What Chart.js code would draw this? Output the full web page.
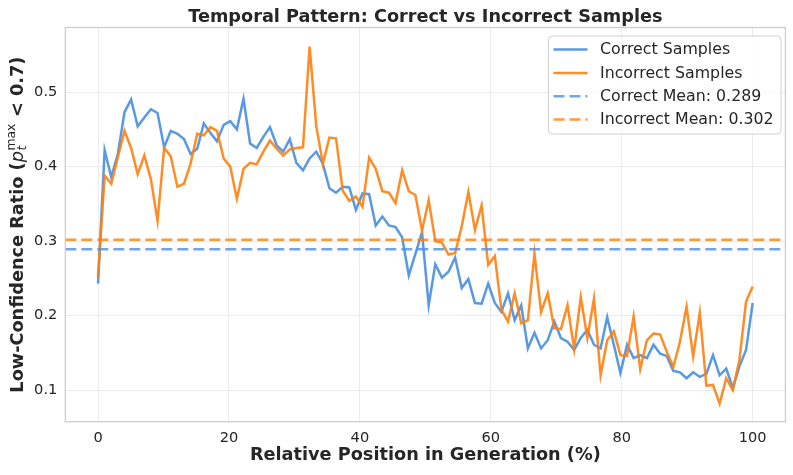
<!DOCTYPE html>
<html><head><meta charset="utf-8">
<script src="https://cdn.jsdelivr.net/npm/chart.js@4.4.1/dist/chart.umd.min.js"></script>
<style>html,body{margin:0;padding:0;background:#fff}</style>
</head><body>
<canvas id="c" width="793" height="475"></canvas>
<script>
// Relative position (%) of each of the 100 bins
const positions = [0.00,1.01,2.02,3.03,4.04,5.05,6.06,7.07,8.08,9.09,10.10,11.11,12.12,13.13,14.14,15.15,16.16,17.17,18.18,19.19,
20.20,21.21,22.22,23.23,24.24,25.25,26.26,27.27,28.28,29.29,30.30,31.31,32.32,33.33,34.34,35.35,36.36,37.37,38.38,39.39,
40.40,41.41,42.42,43.43,44.44,45.45,46.46,47.47,48.48,49.49,50.51,51.52,52.53,53.54,54.55,55.56,56.57,57.58,58.59,59.60,
60.61,61.62,62.63,63.64,64.65,65.66,66.67,67.68,68.69,69.70,70.71,71.72,72.73,73.74,74.75,75.76,76.77,77.78,78.79,79.80,
80.81,81.82,82.83,83.84,84.85,85.86,86.87,87.88,88.89,89.90,90.91,91.92,92.93,93.94,94.95,95.96,96.97,97.98,98.99,100.00];

const correctRatio = [0.243,0.422,0.386,0.417,0.473,0.490,0.454,0.466,0.477,0.472,0.426,0.448,0.444,0.437,0.417,0.424,0.458,0.445,0.434,0.456,
0.461,0.450,0.491,0.431,0.425,0.440,0.453,0.429,0.420,0.437,0.405,0.395,0.411,0.420,0.404,0.371,0.365,0.373,0.372,0.342,
0.364,0.363,0.321,0.333,0.321,0.319,0.305,0.254,0.283,0.312,0.214,0.269,0.251,0.259,0.278,0.237,0.249,0.217,0.216,0.243,
0.217,0.205,0.230,0.194,0.214,0.156,0.177,0.156,0.167,0.192,0.170,0.165,0.154,0.170,0.181,0.161,0.156,0.198,0.161,0.123,
0.161,0.143,0.147,0.143,0.161,0.149,0.146,0.126,0.124,0.116,0.124,0.118,0.122,0.147,0.120,0.129,0.103,0.132,0.154,0.217];

const incorrectRatio = [0.252,0.388,0.377,0.413,0.448,0.425,0.390,0.415,0.383,0.327,0.425,0.414,0.373,0.377,0.404,0.444,0.442,0.453,0.448,0.411,
0.400,0.357,0.397,0.405,0.403,0.420,0.435,0.424,0.415,0.423,0.425,0.426,0.561,0.455,0.404,0.439,0.438,0.368,0.354,0.360,
0.346,0.412,0.397,0.367,0.365,0.351,0.395,0.367,0.362,0.314,0.355,0.300,0.298,0.282,0.284,0.320,0.366,0.315,0.348,0.268,
0.280,0.208,0.192,0.230,0.190,0.194,0.283,0.205,0.230,0.183,0.182,0.214,0.155,0.225,0.170,0.223,0.120,0.167,0.179,0.147,
0.146,0.199,0.128,0.167,0.176,0.175,0.152,0.131,0.165,0.212,0.145,0.204,0.106,0.107,0.082,0.116,0.100,0.141,0.219,0.239];

const correctMean = 0.289;
const incorrectMean = 0.302;
const xLimits = [-5, 105];
const yLimits = [0.0577, 0.5867];
const xTicks = [0, 20, 40, 60, 80, 100];
const yTicks = [0.1, 0.2, 0.3, 0.4, 0.5];
const seriesLabels = ['Correct Samples', 'Incorrect Samples', 'Correct Mean: 0.289', 'Incorrect Mean: 0.302'];

const BLUE = 'rgba(74,144,226,0.92)';
const ORANGE = 'rgba(255,127,14,0.9)';
const BLUE_D = 'rgba(74,144,226,0.8)';
const ORANGE_D = 'rgba(255,127,14,0.8)';
const TXT = '#262626';
const FONT = '"DejaVu Sans", "Liberation Sans", sans-serif';

const titlePlugin = {
  id: 'titlePlugin',
  afterDraw(chart) {
    const c = chart.ctx, a = chart.chartArea;
    c.save();
    c.fillStyle = TXT;
    c.font = 'bold 17.7px ' + FONT;
    c.textAlign = 'center';
    c.textBaseline = 'alphabetic';
    c.fillText('Temporal Pattern: Correct vs Incorrect Samples', (a.left + a.right) / 2, 21.7);
    // y axis title with math
    const big = 17.7, small = 12.4;
    const parts1 = 'Low-Confidence Ratio (';
    const parts2 = ' < 0.7)';
    c.font = 'bold ' + big + 'px ' + FONT; const w1 = c.measureText(parts1).width; const w2 = c.measureText(parts2).width;
    c.font = 'oblique ' + big + 'px ' + FONT; const wp = c.measureText('p').width;
    c.font = 'oblique ' + small + 'px ' + FONT; const wt = c.measureText('t').width;
    c.font = small + 'px ' + FONT; const wm = c.measureText('max').width;
    const wsub = Math.max(wt, wm) + 1;
    const total = w1 + wp + wsub + w2;
    c.translate(22.7, (a.top + a.bottom) / 2);
    c.rotate(-Math.PI / 2);
    c.textAlign = 'left';
    let x = -total / 2;
    c.font = 'bold ' + big + 'px ' + FONT; c.fillText(parts1, x, 0); x += w1;
    c.font = 'oblique ' + big + 'px ' + FONT; c.fillText('p', x, 0); x += wp;
    c.font = 'oblique ' + small + 'px ' + FONT; c.fillText('t', x + 0.5, 3.2);
    c.font = small + 'px ' + FONT; c.fillText('max', x + 0.5, -7.6); x += wsub;
    c.font = 'bold ' + big + 'px ' + FONT; c.fillText(parts2, x, 0);
    c.restore();
  }
};

const framePlugin = {
  id: 'framePlugin',
  afterDatasetsDraw(chart) {
    const c = chart.ctx, a = chart.chartArea;
    c.save();
    c.strokeStyle = '#cccccc';
    c.lineWidth = 1.25;
    c.strokeRect(a.left, a.top, a.right - a.left, a.bottom - a.top);
    c.restore();
  }
};

const legendPlugin = {
  id: 'legendPlugin',
  afterDraw(chart) {
    const c = chart.ctx;
    c.save();
    const bx = 548.5, by = 36, bw = 232.5, bh = 98;
    c.beginPath();
    c.roundRect(bx, by, bw, bh, 4);
    c.fillStyle = 'rgba(255,255,255,0.8)';
    c.fill();
    c.strokeStyle = '#d0d0d0';
    c.lineWidth = 1;
    c.stroke();
    chart.data.datasets.forEach((ds, i) => {
      const y = 49.6 + i * 23.3;
      c.beginPath();
      c.setLineDash(ds.borderDash || []);
      c.strokeStyle = ds.borderColor;
      c.lineWidth = ds.borderWidth;
      c.moveTo(553.5, y); c.lineTo(587.5, y);
      c.stroke();
      c.setLineDash([]);
      c.fillStyle = TXT;
      c.font = '15.8px ' + FONT;
      c.textAlign = 'left';
      c.textBaseline = 'middle';
      c.fillText(ds.label, 600, y + 0.5);
    });
    c.restore();
  }
};

new Chart(document.getElementById('c'), {
  type: 'line',
  data: {
    datasets: [
      { label: seriesLabels[0], data: positions.map((x, i) => ({ x, y: correctRatio[i] })),
        borderColor: BLUE, borderWidth: 2.5, pointRadius: 0, tension: 0, fill: false, order: 4 },
      { label: seriesLabels[1], data: positions.map((x, i) => ({ x, y: incorrectRatio[i] })),
        borderColor: ORANGE, borderWidth: 2.5, pointRadius: 0, tension: 0, fill: false, order: 3 },
      { label: seriesLabels[2], data: xLimits.map(x => ({ x, y: correctMean })),
        borderColor: BLUE_D, borderWidth: 2.5, borderDash: [11, 5], pointRadius: 0, fill: false, order: 2 },
      { label: seriesLabels[3], data: xLimits.map(x => ({ x, y: incorrectMean })),
        borderColor: ORANGE_D, borderWidth: 2.5, borderDash: [11, 5], pointRadius: 0, fill: false, order: 1 }
    ]
  },
  options: {
    responsive: false,
    animation: false,
    devicePixelRatio: 1,
    layout: { padding: { left: 0, right: 7.6, top: 27.5, bottom: 0 } },
    scales: {
      x: {
        type: 'linear', min: xLimits[0], max: xLimits[1],
        afterBuildTicks: s => { s.ticks = xTicks.map(v => ({ value: v })); },
        afterFit: s => { s.height = 53.3; },
        grid: { color: '#ebebeb', lineWidth: 1, drawTicks: false },
        border: { display: false },
        ticks: { font: { family: FONT, size: 14.6 }, color: TXT, padding: 8, maxRotation: 0, autoSkip: false,
                 callback: v => String(v) },
        title: { display: true, text: 'Relative Position in Generation (%)', color: TXT,
                 font: { family: FONT, size: 17.7, weight: 'bold' }, padding: { top: 0, bottom: 8.5 } }
      },
      y: {
        type: 'linear', min: yLimits[0], max: yLimits[1],
        afterBuildTicks: s => { s.ticks = yTicks.map(v => ({ value: v })); },
        afterFit: s => { s.width = 65.3; },
        grid: { color: '#ebebeb', lineWidth: 1, drawTicks: false },
        border: { display: false },
        ticks: { font: { family: FONT, size: 14.6 }, color: TXT, padding: 8, autoSkip: false,
                 callback: v => v.toFixed(1) }
      }
    },
    plugins: { legend: { display: false }, tooltip: { enabled: false }, title: { display: false } }
  },
  plugins: [framePlugin, titlePlugin, legendPlugin]
});
</script>
</body></html>
